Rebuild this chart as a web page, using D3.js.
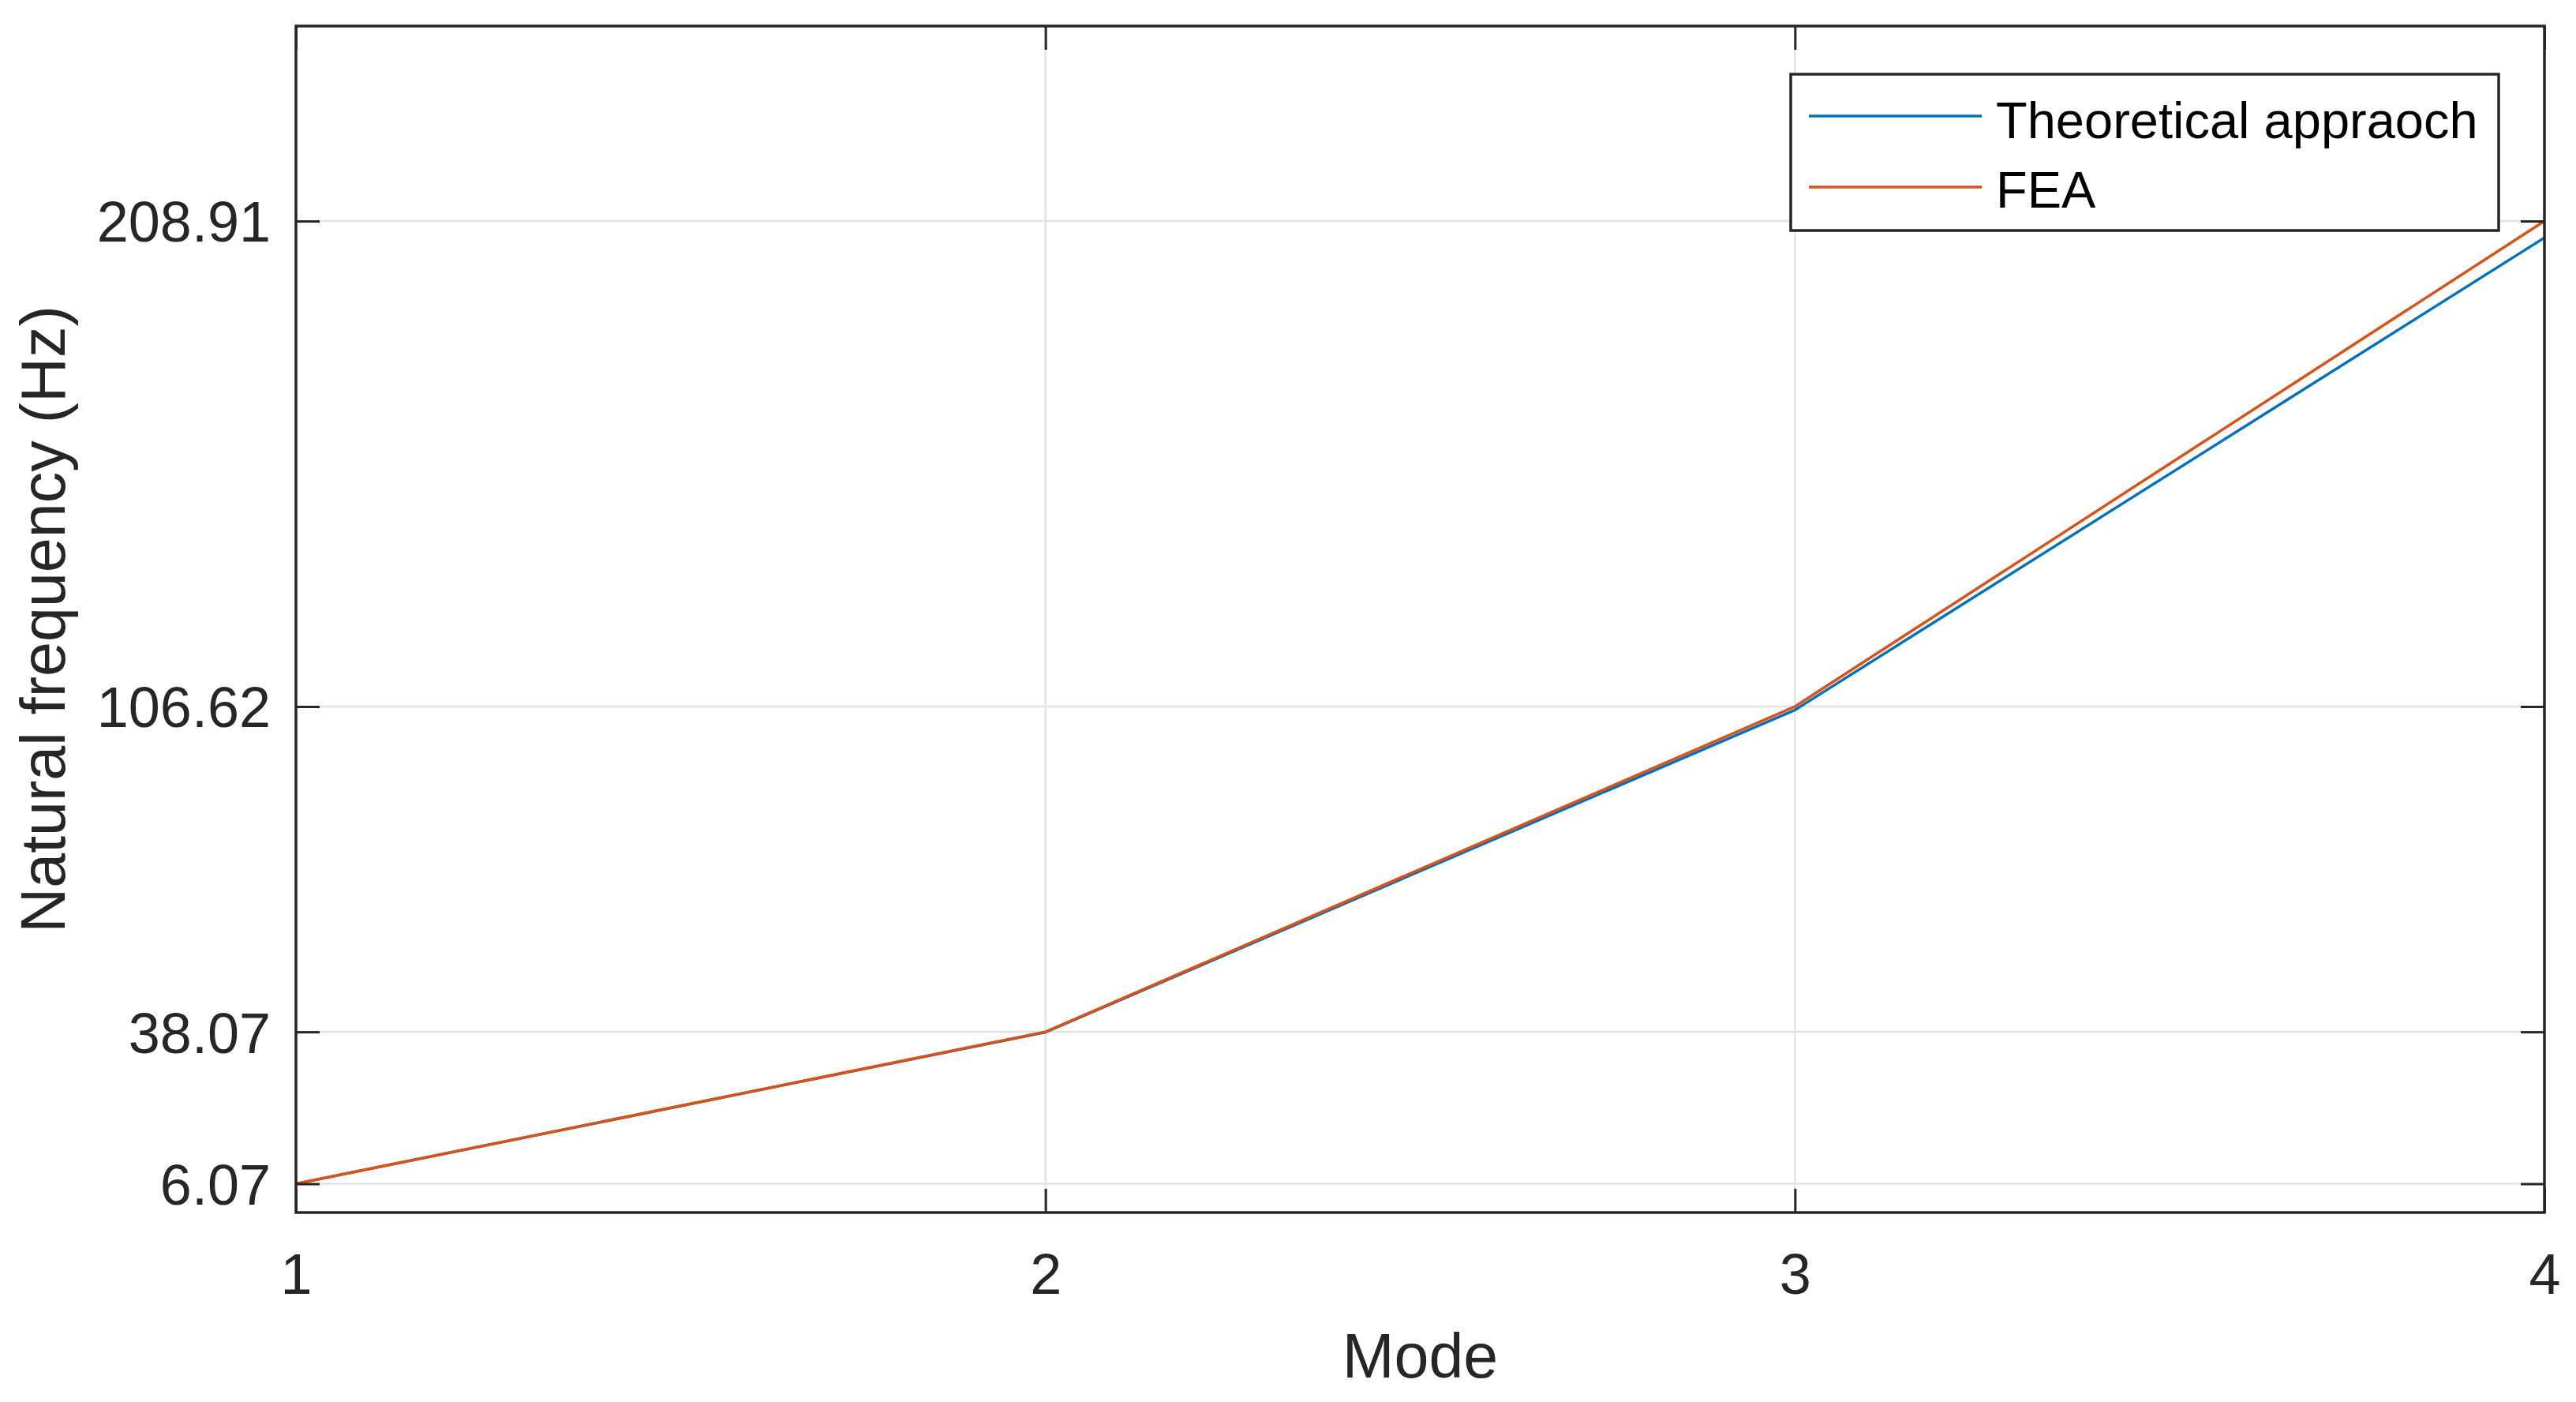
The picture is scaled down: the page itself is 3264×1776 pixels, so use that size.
<!DOCTYPE html>
<html>
<head>
<meta charset="utf-8">
<script src="https://cdn.jsdelivr.net/npm/d3@7"></script>
<style>
  body { margin: 0; background: #fff; }
  text { font-family: "Liberation Sans", Arial, Helvetica, sans-serif; }
</style>
</head>
<body>
<div id="chart"></div>
<script>
// chart data
var modes = [1, 2, 3, 4];
var theoretical = [6.05, 38.0, 105.9, 205.4];
var fea = [6.07, 38.07, 106.62, 208.91];
var yTicks = [6.07, 38.07, 106.62, 208.91];
var xTicks = [1, 2, 3, 4];
var seriesNames = ['Theoretical appraoch', 'FEA'];

var svgWidth = 3264, svgHeight = 1776;
var margin = { top: 33, right: 40, bottom: 240, left: 375 }
  , width = svgWidth - margin.left - margin.right
  , height = svgHeight - margin.top - margin.bottom;

var axisColor = '#262626';
var colors = ['#0072BD', '#D95319'];

var svg = d3.select('#chart').append('svg')
  .attr('width', svgWidth)
  .attr('height', svgHeight);

svg.append('rect')
  .attr('width', svgWidth)
  .attr('height', svgHeight)
  .attr('fill', '#fff');

var g = svg.append('g')
  .attr('transform', 'translate(' + margin.left + ',' + margin.top + ')');

var x = d3.scaleLinear().domain([1, 4]).range([0, width]);
var y = d3.scaleLinear().domain([0, 250]).range([height, 0]);

// grid
g.append('g').selectAll('line.gx')
  .data(xTicks).enter().append('line')
  .attr('x1', d => x(d)).attr('x2', d => x(d))
  .attr('y1', 0).attr('y2', height)
  .attr('stroke', '#e3e3e3').attr('stroke-width', 2.5);

g.append('g').selectAll('line.gy')
  .data(yTicks).enter().append('line')
  .attr('y1', d => y(d)).attr('y2', d => y(d))
  .attr('x1', 0).attr('x2', width)
  .attr('stroke', '#e3e3e3').attr('stroke-width', 2.5);

// series lines
var line = d3.line()
  .x(function(d, i) { return x(modes[i]); })
  .y(function(d) { return y(d); });

[theoretical, fea].forEach(function(s, i) {
  g.append('path')
    .datum(s)
    .attr('d', line)
    .attr('fill', 'none')
    .attr('stroke', colors[i])
    .attr('stroke-width', 3.5);
});

// axes, ticks pointing inward
var tickLen = 30;
var fmtY = d3.format('.2f');

var xAxis = g.append('g')
  .attr('transform', 'translate(0,' + height + ')')
  .call(d3.axisBottom(x).tickValues(xTicks).tickFormat(d3.format('d'))
    .tickSize(-tickLen).tickPadding(52));
var xAxisTop = g.append('g')
  .call(d3.axisTop(x).tickValues(xTicks).tickFormat('').tickSize(-tickLen));
var yAxis = g.append('g')
  .call(d3.axisLeft(y).tickValues(yTicks).tickFormat(fmtY)
    .tickSize(-tickLen).tickPadding(32));
var yAxisRight = g.append('g')
  .attr('transform', 'translate(' + width + ',0)')
  .call(d3.axisRight(y).tickValues(yTicks).tickFormat('').tickSize(-tickLen));

[xAxis, xAxisTop, yAxis, yAxisRight].forEach(function(a) {
  a.select('.domain').remove();
  a.selectAll('.tick line').attr('stroke', axisColor).attr('stroke-width', 3);
  a.selectAll('.tick text')
    .attr('fill', axisColor)
    .style('font-size', '72px');
});
yAxis.selectAll('.tick text').attr('dy', '0.36em');
xAxis.selectAll('.tick text').attr('dy', '0.71em');

// box
g.append('rect')
  .attr('width', width)
  .attr('height', height)
  .attr('fill', 'none')
  .attr('stroke', axisColor)
  .attr('stroke-width', 3.5);

// axis labels
svg.append('text')
  .attr('x', margin.left + width / 2)
  .attr('y', 1745)
  .attr('text-anchor', 'middle')
  .attr('fill', axisColor)
  .style('font-size', '79px')
  .text('Mode');

svg.append('text')
  .attr('transform', 'translate(82,' + (margin.top + height / 2) + ') rotate(-90)')
  .attr('text-anchor', 'middle')
  .attr('fill', axisColor)
  .style('font-size', '79px')
  .text('Natural frequency (Hz)');

// legend
var legend = svg.append('g').attr('transform', 'translate(2269,94)');
legend.append('rect')
  .attr('width', 897)
  .attr('height', 198)
  .attr('fill', '#fff')
  .attr('stroke', axisColor)
  .attr('stroke-width', 3.5);

var rowY = [53, 143];
var textY = [81, 169];
seriesNames.forEach(function(name, i) {
  legend.append('line')
    .attr('x1', 23).attr('x2', 242)
    .attr('y1', rowY[i]).attr('y2', rowY[i])
    .attr('stroke', colors[i])
    .attr('stroke-width', 3.5);
  legend.append('text')
    .attr('x', 260)
    .attr('y', textY[i])
    .attr('fill', '#000')
    .style('font-size', '65px')
    .text(name);
});
</script>
</body>
</html>
